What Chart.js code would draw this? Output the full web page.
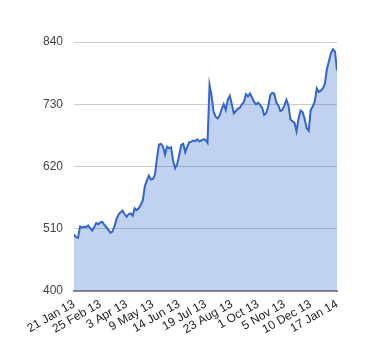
<!DOCTYPE html>
<html>
<head>
<meta charset="utf-8">
<script src="https://cdn.jsdelivr.net/npm/chart.js@4/dist/chart.umd.min.js"></script>
<style>
  html, body { margin: 0; padding: 0; background: #fff; }
  #wrap { width: 380px; height: 360px; }
</style>
</head>
<body>
<div id="wrap"><canvas id="c" width="380" height="360"></canvas></div>
<script>
// Tick labels along the x axis (one every 13 trading-day samples)
const tickLabels = ["21 Jan 13", "25 Feb 13", "3 Apr 13", "9 May 13", "14 Jun 13",
  "19 Jul 13", "23 Aug 13", "1 Oct 13", "5 Nov 13", "10 Dec 13", "17 Jan 14"];
const samplesPerTick = 13;

// Price series (sampled every ~2 trading days)
const prices = [
  500, 495, 494, 514, 512, 514, 513, 516, 511, 507,
  513, 520, 518, 521, 522, 517, 513, 508, 503, 505,
  514, 527, 535, 539, 542, 536, 531, 536, 537, 533,
  546, 543, 546, 552, 560, 585, 595, 604, 597, 598,
  605, 635, 659, 660, 655, 641, 655, 652, 654, 630,
  617, 624, 640, 658, 660, 645, 655, 663, 664, 666,
  665, 668, 664, 666, 668, 667, 662, 764, 745, 717,
  708, 705, 710, 722, 730, 720, 738, 745, 730, 714,
  718, 722, 724, 730, 734, 748, 744, 749, 742, 734,
  730, 733, 729, 724, 711, 714, 727, 746, 750, 749,
  733, 728, 718, 720, 728, 738, 728, 703, 700, 697,
  682, 705, 719, 716, 704, 688, 683, 720, 726, 735,
  758, 752, 754, 758, 766, 792, 806, 820, 827, 823,
  790
];

// Y axis ticks
const yTicks = [400, 510, 620, 730, 840];

const points = prices.map((v, i) => ({ x: i, y: v }));

new Chart(document.getElementById('c'), {
  type: 'line',
  data: {
    datasets: [{
      data: points,
      borderColor: '#3366cc',
      backgroundColor: 'rgba(51,102,204,0.3)',
      borderWidth: 2,
      pointRadius: 0,
      tension: 0,
      fill: 'start'
    }]
  },
  options: {
    responsive: false,
    animation: false,
    devicePixelRatio: 1,
    layout: { padding: { top: 42, right: 43, bottom: 0, left: 0 } },
    plugins: { legend: { display: false }, tooltip: { enabled: false } },
    scales: {
      x: {
        type: 'linear',
        min: 0,
        max: samplesPerTick * (tickLabels.length - 1),
        grid: { display: false, drawTicks: false },
        border: { display: true, color: '#888', width: 2 },
        ticks: {
          stepSize: samplesPerTick,
          autoSkip: false,
          minRotation: 30,
          maxRotation: 30,
          padding: 6,
          color: '#222',
          font: { family: 'Arial, "Liberation Sans", sans-serif', size: 12 },
          callback: (v) => tickLabels[Math.round(v / samplesPerTick)]
        },
        afterFit: (s) => { s.height = 69; }
      },
      y: {
        min: yTicks[0],
        max: yTicks[yTicks.length - 1],
        grid: { color: (ctx) => ctx.tick && ctx.tick.value === yTicks[0] ? 'rgba(0,0,0,0)' : '#cccccc', lineWidth: 1, drawTicks: false },
        border: { display: false },
        afterBuildTicks: (s) => { s.ticks = yTicks.map(v => ({ value: v })); },
        ticks: {
          padding: 11,
          color: '#444',
          font: { family: 'Arial, "Liberation Sans", sans-serif', size: 12 }
        },
        afterFit: (s) => { s.width = 74; }
      }
    }
  }
});
</script>
</body>
</html>
